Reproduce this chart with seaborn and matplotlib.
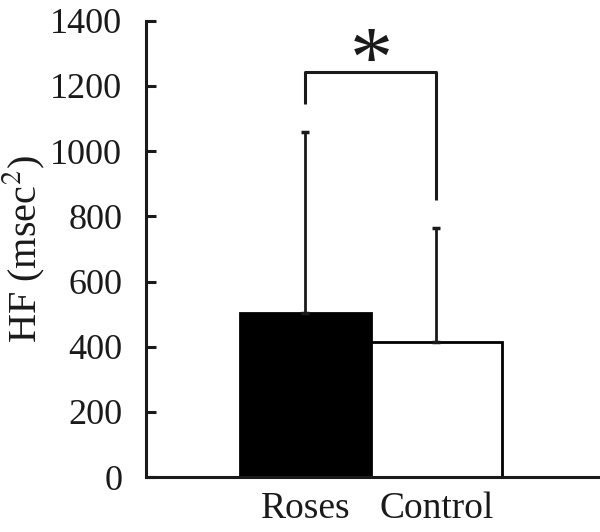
import pandas as pd
import matplotlib.pyplot as plt
import seaborn as sns

# Data
groups = ['Roses', 'Control']
means = [505, 415]
sds = [555, 350]
bar_colors = ['black', 'white']
bracket_left = 1145
bracket_top = 1242
bracket_right = 850
y_ticks = [0, 200, 400, 600, 800, 1000, 1200, 1400]

sns.set_style('ticks')
plt.rcParams['font.family'] = ['Liberation Serif', 'DejaVu Serif']
plt.rcParams['mathtext.fontset'] = 'stix'

df = pd.DataFrame({'Group': groups, 'HF': means})

fig = plt.figure(figsize=(6.0, 5.32), dpi=100)
ax = fig.add_axes([0.243, 0.103, 0.757, 0.858])

sns.barplot(x='Group', y='HF', hue='Group', data=df, palette=bar_colors,
            edgecolor='black', linewidth=2.0, width=1.0, legend=False,
            errorbar=None, ax=ax)

# upward-only error bars
xs = list(range(len(groups)))
ax.errorbar(xs, means, yerr=[[0] * len(sds), sds], fmt='none',
            ecolor='#1a1a1a', elinewidth=2.0, capsize=3, capthick=2.5)

# significance bracket
ax.plot([0, 0, 1, 1], [bracket_left, bracket_top, bracket_top, bracket_right],
        color='#1a1a1a', lw=2.2, solid_capstyle='butt')
ax.text(0.5, bracket_top + 20, '*', ha='center', va='center', fontsize=62,
        color='#1a1a1a')

ax.set_ylim(0, 1400)
ax.set_xlim(-1.22, 2.25)
ax.set_yticks(y_ticks)
ax.set_yticklabels([str(v) for v in y_ticks])
ax.tick_params(axis='y', direction='in', length=7, width=2.2, labelsize=26,
               pad=17, colors='#1a1a1a')
ax.tick_params(axis='x', length=0, labelsize=27, pad=10, colors='#1a1a1a')
ax.set_xlabel('')
ax.set_ylabel('HF (msec$^2$)', fontsize=29, color='#1a1a1a', labelpad=2)

sns.despine(ax=ax)
for s in ['left', 'bottom']:
    ax.spines[s].set_linewidth(2.2)
    ax.spines[s].set_color('#1a1a1a')

fig.savefig('out.png', dpi=100)
